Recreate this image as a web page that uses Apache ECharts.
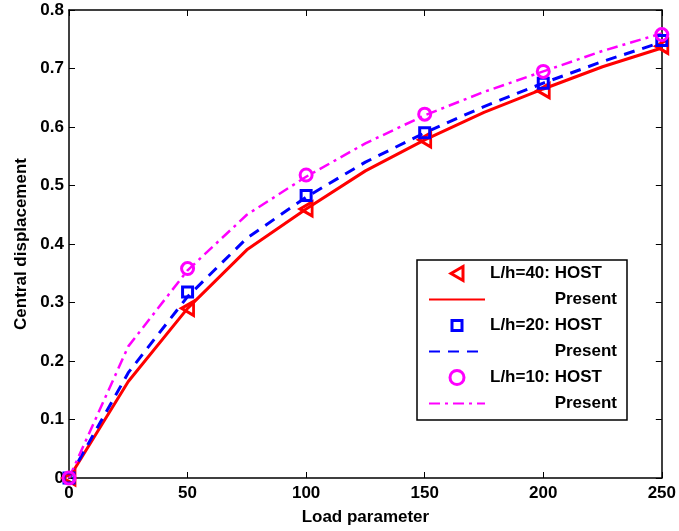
<!DOCTYPE html>
<html><head><meta charset="utf-8">
<script src="https://cdn.jsdelivr.net/npm/echarts@6/dist/echarts.min.js"></script>
<style>html,body{margin:0;padding:0;background:#fff}#c{width:679px;height:531px}</style>
</head><body><div id="c"></div>
<script>
const loadPresent = [0,25,50,75,100,125,150,175,200,225,250];
const loadHost = [0,50,100,150,200,250];
const present40 = [0,0.165,0.29,0.39,0.46,0.525,0.578,0.625,0.665,0.703,0.735];
const present20 = [0,0.18,0.31,0.41,0.48,0.54,0.59,0.635,0.675,0.712,0.745];
const present10 = [0,0.225,0.355,0.45,0.515,0.572,0.62,0.66,0.695,0.73,0.76];
const host40 = [0,0.29,0.46,0.578,0.662,0.738];
const host20 = [0,0.318,0.483,0.59,0.675,0.748];
const host10 = [0,0.358,0.518,0.622,0.695,0.758];
const xTicks = [0,50,100,150,200,250];
const yTicks = [0,0.1,0.2,0.3,0.4,0.5,0.6,0.7,0.8];

const pair = (xs, ys) => xs.map((x,i)=>[x, ys[i]]);
const FONT = 'Liberation Sans, Arial, sans-serif';
const FS = 17;
const RED='#ff0000', BLUE='#0000ff', MAG='#ff00ff';
const triLeft = 'path://M12,0 L0,7 L12,14 Z';
const square = 'path://M0,0 L0,0 M2,2 L12,2 L12,12 L2,12 Z M14,14 L14,14';

const chart = echarts.init(document.getElementById('c'));
const axisCommon = {
  axisLine:{show:true,onZero:false,lineStyle:{color:'#000',width:1.5}},
  axisTick:{inside:true,length:6,lineStyle:{color:'#000',width:1}},
  splitLine:{show:false}
};
const txt = {fontFamily:FONT,fontSize:FS,fontWeight:'bold',color:'#000'};
const hostLegendStyle = c => ({color:'rgba(255,255,255,0)',borderColor:c,borderWidth:3,opacity:1});
chart.setOption({
  animation:false,
  backgroundColor:'#fff',
  grid:{left:69,right:13,top:10,bottom:51},
  xAxis:[
    Object.assign({type:'value',min:0,max:250,interval:50,position:'bottom',
      name:'Load parameter',nameLocation:'middle',nameGap:31,
      nameTextStyle:txt,
      axisLabel:Object.assign({margin:7,formatter:v=>xTicks.includes(v)?String(v):''},txt)},axisCommon),
    Object.assign({type:'value',min:0,max:250,interval:50,position:'top',axisLabel:{show:false}},axisCommon)
  ],
  yAxis:[
    Object.assign({type:'value',min:0,max:0.8,interval:0.1,position:'left',
      name:'Central displacement',nameLocation:'middle',nameGap:37,
      nameTextStyle:txt,
      axisLabel:Object.assign({margin:5,
        formatter:v=>{const t=yTicks.find(y=>Math.abs(y-v)<1e-9);return t===undefined?'':(t===0?'0':t.toFixed(1));}},txt)},axisCommon),
    Object.assign({type:'value',min:0,max:0.8,interval:0.1,position:'right',axisLabel:{show:false}},axisCommon)
  ],
  legend:{
    orient:'vertical',left:417,top:260,
    padding:[5,10,8,11],itemGap:9,itemWidth:56,itemHeight:14,
    backgroundColor:'#fff',borderColor:'#000',borderWidth:1.5,
    formatter:name=>name.indexOf('Present')>=0?'{p|Present}':'{h|'+name+'}',
    textStyle:Object.assign({rich:{h:Object.assign({width:127,align:'left'},txt),
            p:Object.assign({width:127,align:'right'},txt)}},txt),
    data:[
      {name:'L/h=40: HOST',itemStyle:hostLegendStyle(RED)},
      {name:'L/h=40 Present',itemStyle:{opacity:0}},
      {name:'L/h=20: HOST',itemStyle:hostLegendStyle(BLUE)},
      {name:'L/h=20 Present',itemStyle:{opacity:0}},
      {name:'L/h=10: HOST',itemStyle:hostLegendStyle(MAG)},
      {name:'L/h=10 Present',itemStyle:{opacity:0}}
    ]
  },
  series:[
    {name:'L/h=40 Present',type:'line',data:pair(loadPresent,present40),symbol:'none',
      lineStyle:{color:RED,width:3,type:'solid'},itemStyle:{color:RED},z:2},
    {name:'L/h=20 Present',type:'line',data:pair(loadPresent,present20),symbol:'none',
      lineStyle:{color:BLUE,width:3,type:[11,8]},itemStyle:{color:BLUE},z:2},
    {name:'L/h=10 Present',type:'line',data:pair(loadPresent,present10),symbol:'none',
      lineStyle:{color:MAG,width:2.5,type:[11,5,3,5]},itemStyle:{color:MAG},z:2},
    {name:'L/h=40: HOST',type:'scatter',data:pair(loadHost,host40),symbol:triLeft,symbolSize:[12,14],
      itemStyle:{color:'rgba(255,255,255,0)',borderColor:RED,borderWidth:3,opacity:1},z:3},
    {name:'L/h=20: HOST',type:'scatter',data:pair(loadHost,host20),symbol:square,symbolSize:14,
      itemStyle:{color:'rgba(255,255,255,0)',borderColor:BLUE,borderWidth:3,opacity:1},z:3},
    {name:'L/h=10: HOST',type:'scatter',data:pair(loadHost,host10),symbol:'circle',symbolSize:12,
      itemStyle:{color:'rgba(255,255,255,0)',borderColor:MAG,borderWidth:3,opacity:1},z:3}
  ]
});
</script></body></html>
